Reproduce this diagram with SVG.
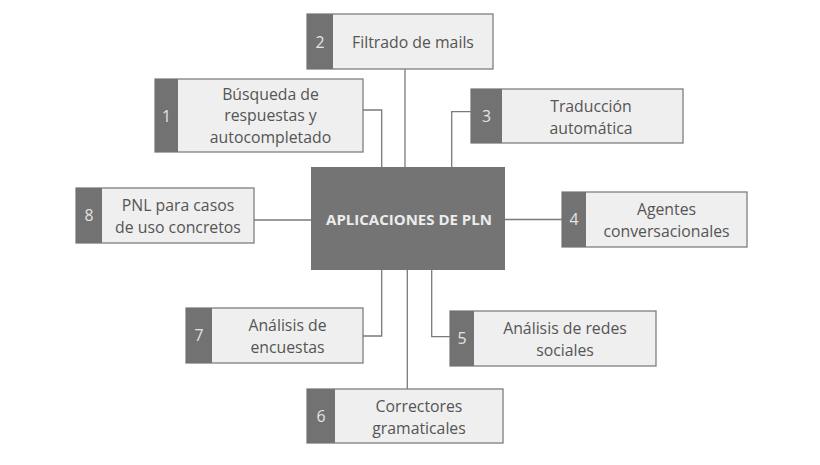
<svg xmlns="http://www.w3.org/2000/svg" width="820" height="465" viewBox="0 0 820 465">
<style>
.box{fill:#efefef;stroke:#7f7f7f;stroke-width:1.3}
.tab{fill:#727272}
.t{font-family:"Open Sans","DejaVu Sans",sans-serif;font-size:15.8px;fill:#555555;text-anchor:middle}
.n{font-family:"Open Sans","DejaVu Sans",sans-serif;font-size:15.8px;fill:#e4e4e4;text-anchor:middle}
.conn{fill:none;stroke:#7a7a7a;stroke-width:1.3}
.center{fill:#747474}
.ct{font-family:"Open Sans","DejaVu Sans",sans-serif;font-size:15px;font-weight:bold;fill:#ececec;text-anchor:middle}
</style>
<rect width="820" height="465" fill="#ffffff"/>
<g id="connectors">
<path class="conn" d="M363,110 H381.7 V167"/>
<path class="conn" d="M405,69 V167"/>
<path class="conn" d="M471,111.7 H451.7 V167"/>
<path class="conn" d="M505,219.5 H562"/>
<path class="conn" d="M431.7,270 V336.7 H450"/>
<path class="conn" d="M407.3,270 V389"/>
<path class="conn" d="M381.7,270 V336 H363"/>
<path class="conn" d="M254,220 H311"/>
</g>
<g id="center">
<rect class="center" x="311" y="167" width="194" height="103"/>
<text class="ct" x="409" y="224.5">APLICACIONES DE PLN</text>
</g>
<g id="node1">
<rect class="box" x="155" y="79" width="208" height="73"/>
<rect class="tab" x="155" y="79" width="23" height="73"/>
<text class="n" x="166.5" y="121.5">1</text>
<text class="t" x="270.5" y="99.5">Búsqueda de</text>
<text class="t" x="270.5" y="121">respuestas y</text>
<text class="t" x="270.5" y="142.5">autocompletado</text>
</g>
<g id="node2">
<rect class="box" x="307" y="14" width="186" height="55"/>
<rect class="tab" x="307" y="14" width="26" height="55"/>
<text class="n" x="320" y="47.5">2</text>
<text class="t" x="413" y="48">Filtrado de mails</text>
</g>
<g id="node3">
<rect class="box" x="471" y="89" width="212" height="54"/>
<rect class="tab" x="471" y="89" width="31" height="54"/>
<text class="n" x="486.5" y="121.5">3</text>
<text class="t" x="591" y="111.5">Traducción</text>
<text class="t" x="591" y="133.5">automática</text>
</g>
<g id="node4">
<rect class="box" x="562" y="192" width="185" height="55"/>
<rect class="tab" x="562" y="192" width="24" height="55"/>
<text class="n" x="574" y="225">4</text>
<text class="t" x="666.5" y="215">Agentes</text>
<text class="t" x="666.5" y="237">conversacionales</text>
</g>
<g id="node5">
<rect class="box" x="450" y="311" width="206" height="55"/>
<rect class="tab" x="450" y="311" width="24" height="55"/>
<text class="n" x="462" y="344">5</text>
<text class="t" x="565" y="334">Análisis de redes</text>
<text class="t" x="565" y="356">sociales</text>
</g>
<g id="node6">
<rect class="box" x="307" y="389" width="196" height="54"/>
<rect class="tab" x="307" y="389" width="28" height="54"/>
<text class="n" x="321" y="421.5">6</text>
<text class="t" x="419" y="411.5">Correctores</text>
<text class="t" x="419" y="433.5">gramaticales</text>
</g>
<g id="node7">
<rect class="box" x="186" y="308" width="177" height="55"/>
<rect class="tab" x="186" y="308" width="26" height="55"/>
<text class="n" x="199" y="341">7</text>
<text class="t" x="287.5" y="331">Análisis de</text>
<text class="t" x="287.5" y="353">encuestas</text>
</g>
<g id="node8">
<rect class="box" x="76" y="188" width="178" height="55"/>
<rect class="tab" x="76" y="188" width="26" height="55"/>
<text class="n" x="89" y="221">8</text>
<text class="t" x="178" y="211">PNL para casos</text>
<text class="t" x="178" y="233">de uso concretos</text>
</g>
</svg>
